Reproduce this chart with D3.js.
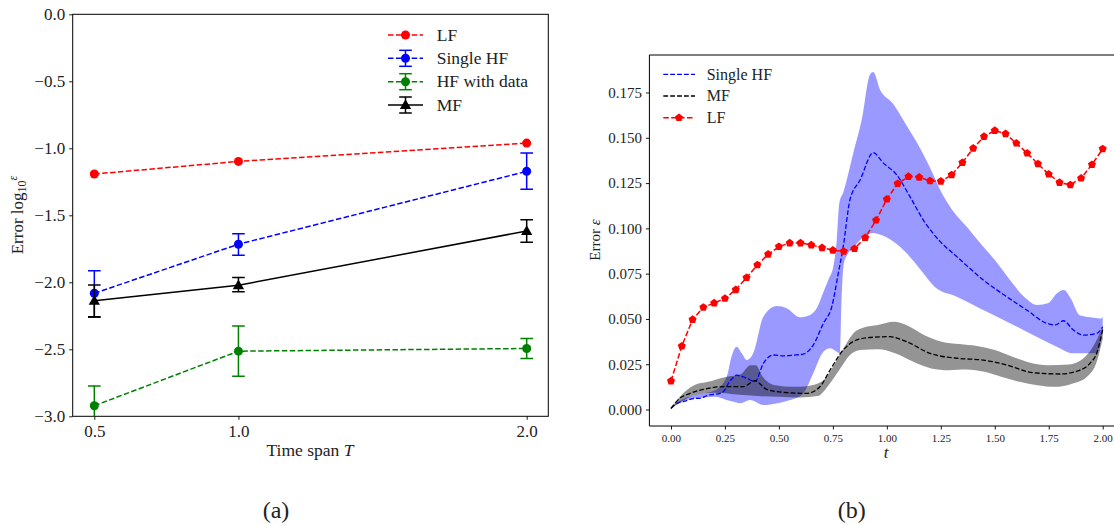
<!DOCTYPE html>
<html><head><meta charset="utf-8">
<script src="https://cdn.jsdelivr.net/npm/d3@7"></script>
<style>
html,body{margin:0;padding:0;background:#fff;}
svg{display:block;font-family:"Liberation Serif","Times New Roman",serif;}
svg text{font-family:"Liberation Serif","Times New Roman",serif !important;}
</style></head>
<body><svg id="c" width="1114" height="525"></svg>
<script>
// ---------- Panel (a) data ----------
const spans = [0.5, 1.0, 2.0];
const spanTicks = [0.5, 1.0, 2.0];
const logTicks = [0.0, -0.5, -1.0, -1.5, -2.0, -2.5, -3.0];
const lfLog = [-1.192, -1.098, -0.961];
const singleHFLog = [-2.082, -1.716, -1.172];
const singleHFLo = [-2.261, -1.798, -1.306];
const singleHFHi = [-1.913, -1.637, -1.036];
const hfDataLog = [-2.921, -2.514, -2.494];
const hfDataLo = [-3.068, -2.702, -2.568];
const hfDataHi = [-2.774, -2.327, -2.419];
const mfLog = [-2.137, -2.022, -1.617];
const mfLogLo = [-2.257, -2.071, -1.701];
const mfLogHi = [-2.020, -1.965, -1.533];
const legendA = ["LF", "Single HF", "HF with data", "MF"];

// ---------- Panel (b) data ----------
const tTicks = [0.00, 0.25, 0.50, 0.75, 1.00, 1.25, 1.50, 1.75, 2.00];
const errTicks = [0.000, 0.025, 0.050, 0.075, 0.100, 0.125, 0.150, 0.175];
const lfT = [0,0.05,0.1,0.15,0.2,0.25,0.3,0.35,0.4,0.45,0.5,0.55,0.6,0.65,0.7,0.75,0.8,0.85,0.9,0.95,1.0,1.05,1.1,1.15,1.2,1.25,1.3,1.35,1.4,1.45,1.5,1.55,1.6,1.65,1.7,1.75,1.8,1.85,1.9,1.95,2.0];
const lfErr = [0.0157,0.035,0.0497,0.0564,0.0588,0.0613,0.0661,0.0728,0.0798,0.0857,0.0899,0.0919,0.0919,0.0908,0.0893,0.0879,0.0873,0.0888,0.0949,0.1045,0.1161,0.1247,0.1286,0.1282,0.1262,0.126,0.1295,0.1363,0.1442,0.1507,0.154,0.1522,0.147,0.1415,0.1356,0.1299,0.1253,0.124,0.1277,0.1352,0.1439];

const hfMeanT = [0,0.033,0.057,0.107,0.134,0.172,0.227,0.254,0.266,0.287,0.304,0.32,0.351,0.389,0.428,0.474,0.52,0.567,0.613,0.659,0.706,0.745,0.775,0.798,0.829,0.876,0.937,0.984,1.046,1.107,1.169,1.247,1.324,1.447,1.555,1.648,1.741,1.78,1.818,1.864,1.91,1.972,2.0];
const hfMean = [0.0006,0.0037,0.0043,0.0061,0.0062,0.0079,0.0089,0.0116,0.0145,0.0175,0.019,0.0185,0.0172,0.0154,0.0255,0.0301,0.0296,0.0300,0.0306,0.0356,0.0476,0.0568,0.0752,0.09,0.1157,0.1267,0.1418,0.136,0.1295,0.1175,0.1046,0.0927,0.0844,0.0715,0.0623,0.0549,0.0476,0.0467,0.049,0.0439,0.0411,0.042,0.0457];
const hfUpT = [0,0.033,0.107,0.205,0.258,0.28,0.304,0.328,0.351,0.381,0.428,0.49,0.536,0.598,0.644,0.675,0.713,0.729,0.752,0.768,0.78,0.798,0.845,0.884,0.922,0.937,0.968,1.027,1.085,1.15,1.21,1.25,1.303,1.369,1.434,1.5,1.566,1.631,1.697,1.746,1.787,1.82,1.852,1.893,1.943,1.995,2.0];
const hfUp = [0.0006,0.0042,0.0079,0.0107,0.0181,0.029,0.0347,0.031,0.0273,0.031,0.0512,0.0571,0.0559,0.0509,0.0522,0.0559,0.0669,0.0717,0.0789,0.0936,0.114,0.1198,0.1418,0.1602,0.185,0.1863,0.1767,0.169,0.158,0.145,0.131,0.1205,0.1102,0.101,0.0917,0.0825,0.0722,0.0628,0.0577,0.0586,0.0641,0.066,0.0613,0.0521,0.0510,0.0503,0.0512];
const hfLoT = [0,0.033,0.107,0.205,0.258,0.303,0.32,0.366,0.428,0.505,0.551,0.613,0.659,0.706,0.737,0.768,0.782,0.79,0.80,0.82,0.85,0.88,0.937,0.975,1.03,1.092,1.169,1.221,1.324,1.478,1.632,1.787,1.864,1.97,2.0];
const hfLo = [0.0006,0.0033,0.0061,0.007,0.0052,0.0039,0.0034,0.0052,0.0025,0.0038,0.0052,0.0089,0.02,0.0319,0.0338,0.0319,0.031,0.06,0.08,0.086,0.09,0.094,0.0975,0.0963,0.0927,0.0862,0.0752,0.0678,0.0623,0.0531,0.0439,0.0347,0.031,0.031,0.044];

const mfMeanT = [0,0.04,0.088,0.15,0.242,0.335,0.389,0.443,0.52,0.629,0.69,0.737,0.798,0.861,0.937,1.015,1.092,1.2,1.324,1.447,1.555,1.679,1.803,1.895,1.941,1.975,2.0];
const mfMean = [0.0006,0.0061,0.0089,0.0111,0.0126,0.0126,0.0159,0.0111,0.0095,0.0089,0.0126,0.0218,0.0329,0.0384,0.0399,0.0402,0.0374,0.031,0.0283,0.0273,0.0246,0.0203,0.0196,0.0218,0.0255,0.032,0.0442];
const mfUpT = [0,0.041,0.107,0.172,0.254,0.32,0.369,0.393,0.426,0.484,0.566,0.631,0.697,0.746,0.795,0.844,0.893,0.959,1.033,1.09,1.172,1.254,1.336,1.418,1.5,1.582,1.664,1.746,1.844,1.91,1.959,2.0];
const mfUp = [0.0006,0.007,0.0134,0.0153,0.018,0.0193,0.0245,0.0245,0.018,0.0134,0.0125,0.0129,0.0153,0.0227,0.0328,0.042,0.0453,0.0466,0.0484,0.0466,0.0411,0.0374,0.0361,0.035,0.0328,0.0291,0.0258,0.0245,0.0249,0.0282,0.0355,0.0457];
const mfLoT = [0,0.041,0.107,0.205,0.303,0.402,0.5,0.598,0.68,0.73,0.779,0.828,0.877,0.959,1.041,1.123,1.205,1.287,1.369,1.451,1.533,1.615,1.697,1.779,1.861,1.926,1.975,2.0];
const mfLo = [0.0006,0.0037,0.0079,0.0092,0.0083,0.0074,0.007,0.0066,0.0074,0.0134,0.0217,0.030,0.0328,0.0332,0.0309,0.0263,0.0227,0.0217,0.0221,0.0208,0.018,0.0153,0.0134,0.0125,0.0144,0.018,0.0273,0.0392];
const legendB = ["Single HF", "MF", "LF"];

const svg = d3.select("#c");
const defs = svg.append("defs");

// ================= Panel (a) =================
const xA = d3.scaleLinear().domain([0.425, 2.075]).range([72.7, 548.3]);
const yA = d3.scaleLinear().domain([-3, 0]).range([416.3, 14.3]);
defs.append("clipPath").attr("id","clipA").append("rect")
  .attr("x",72.7).attr("y",14.3).attr("width",548.3-72.7).attr("height",416.3-14.3);

const gA = svg.append("g");
const fmtMinus = v => (v < 0 ? "\u2212" : "") + Math.abs(v).toFixed(1);
const axAy = gA.append("g").attr("transform","translate(72.7,0)")
  .call(d3.axisLeft(yA).tickValues(logTicks).tickSize(3.5).tickPadding(4).tickFormat(fmtMinus));
const axAx = gA.append("g").attr("transform","translate(0,416.3)")
  .call(d3.axisBottom(xA).tickValues(spanTicks).tickSize(3.5).tickPadding(5).tickFormat(d3.format(".1f")));
[axAy, axAx].forEach(a => {
  a.attr("font-family", null);
  a.select(".domain").remove();
  a.selectAll("text").attr("font-size", 17).attr("fill","#222");
  a.selectAll("line").attr("stroke","#000").attr("stroke-width",0.9);
});
gA.append("rect").attr("x",72.7).attr("y",14.3).attr("width",548.3-72.7).attr("height",416.3-14.3)
  .attr("fill","none").attr("stroke","#000").attr("stroke-width",1);

const pA = gA.append("g").attr("clip-path","url(#clipA)");
const lineA = vals => d3.line().x((d,i)=>xA(spans[i])).y(d=>yA(d))(vals);
function errbars(g, lo, hi, color, lw) {
  spans.forEach((s,i)=>{
    g.append("line").attr("x1",xA(s)).attr("x2",xA(s)).attr("y1",yA(lo[i])).attr("y2",yA(hi[i]))
      .attr("stroke",color).attr("stroke-width",lw);
    [lo[i],hi[i]].forEach(v=> g.append("line").attr("x1",xA(s)-6.3).attr("x2",xA(s)+6.3)
      .attr("y1",yA(v)).attr("y2",yA(v)).attr("stroke",color).attr("stroke-width",lw));
  });
}
const triangle = d3.symbol().type(d3.symbolTriangle).size(55);
const seriesA = [
  {vals: lfLog, color:"#ff0000", dash:"5.5,2.4", marker:"o"},
  {vals: singleHFLog, lo: singleHFLo, hi: singleHFHi, color:"#0000ff", dash:"5.5,2.4", marker:"o"},
  {vals: hfDataLog, lo: hfDataLo, hi: hfDataHi, color:"#008000", dash:"5.5,2.4", marker:"o"},
  {vals: mfLog, lo: mfLogLo, hi: mfLogHi, color:"#000000", dash:null, marker:"^"}
];
seriesA.forEach(s=>{
  if (s.lo) errbars(pA, s.lo, s.hi, s.color, 1.5);
  const p = pA.append("path").attr("d", lineA(s.vals)).attr("fill","none")
    .attr("stroke", s.color).attr("stroke-width",1.5);
  if (s.dash) p.attr("stroke-dasharray", s.dash);
  s.vals.forEach((v,i)=>{
    if (s.marker === "o") pA.append("circle").attr("cx",xA(spans[i])).attr("cy",yA(v)).attr("r",4.5).attr("fill",s.color);
    else pA.append("path").attr("d",triangle()).attr("transform",`translate(${xA(spans[i])},${yA(v)+0.8})`).attr("fill",s.color);
  });
});
// legend (a)
const legAy = [35, 58.3, 81.7, 105];
seriesA.forEach((s,i)=>{
  const y = legAy[i], g = gA.append("g");
  const l = g.append("line").attr("x1",388).attr("x2",423).attr("y1",y).attr("y2",y)
    .attr("stroke",s.color).attr("stroke-width",1.5);
  if (s.dash) l.attr("stroke-dasharray","5.5,2.4");
  if (s.lo) {
    g.append("line").attr("x1",405.5).attr("x2",405.5).attr("y1",y-8).attr("y2",y+8).attr("stroke",s.color).attr("stroke-width",1.5);
    [y-8,y+8].forEach(yy=>g.append("line").attr("x1",399.2).attr("x2",411.8).attr("y1",yy).attr("y2",yy).attr("stroke",s.color).attr("stroke-width",1.5));
  }
  if (s.marker==="o") g.append("circle").attr("cx",405.5).attr("cy",y).attr("r",4.5).attr("fill",s.color);
  else g.append("path").attr("d",triangle()).attr("transform",`translate(405.5,${y+0.8})`).attr("fill",s.color);
  g.append("text").attr("x",436.7).attr("y",y+5.5).attr("font-size",17.5).attr("fill","#222").text(legendA[i]);
});
// axis labels (a)
gA.append("text").attr("x",310).attr("y",456).attr("text-anchor","middle").attr("font-size",17.5).attr("fill","#222")
  .html('Time span <tspan font-style="italic">T</tspan>');
const yl = gA.append("text").attr("transform","translate(23,215) rotate(-90)").attr("text-anchor","middle")
  .attr("font-size",17).attr("fill","#222");
yl.append("tspan").text("Error log");
yl.append("tspan").attr("font-size",12).attr("dy",3).text("10");
yl.append("tspan").attr("font-size",12).attr("font-style","italic").attr("dy",-9).text("\u03b5");
svg.append("text").attr("x",276).attr("y",518).attr("text-anchor","middle").attr("font-size",24).attr("fill","#222").text("(a)");

// ================= Panel (b) =================
const xB = d3.scaleLinear().domain([-0.1, 2.1]).range([649.4, 1124.3]);
const yB = d3.scaleLinear().domain([-0.0091, 0.1957]).range([426, 55]);
defs.append("clipPath").attr("id","clipB").append("rect")
  .attr("x",649.4).attr("y",55).attr("width",1124.3-649.4).attr("height",426-55);
const gB = svg.append("g");
const pB = gB.append("g").attr("clip-path","url(#clipB)");

const edge = d3.line().curve(d3.curveMonotoneX);
function band(tu, vu, tl, vl) {
  const up = tu.map((t,i)=>[xB(t), yB(vu[i])]);
  const lo = tl.map((t,i)=>[xB(t), yB(vl[i])]).reverse();
  return edge(up) + "L" + edge(lo).slice(1) + "Z";
}
const smooth = (ts, vs) => d3.line().curve(d3.curveMonotoneX).x((d,i)=>xB(ts[i])).y(d=>yB(d))(vs);
pB.append("path").attr("d", band(hfUpT, hfUp, hfLoT, hfLo)).attr("fill","#0000ff").attr("fill-opacity",0.4);
pB.append("path").attr("d", band(mfUpT, mfUp, mfLoT, mfLo)).attr("fill","#000000").attr("fill-opacity",0.42);
pB.append("path").attr("d", smooth(hfMeanT, hfMean)).attr("fill","none").attr("stroke","#0000ff")
  .attr("stroke-width",1.3).attr("stroke-dasharray","4.8,2.1");
pB.append("path").attr("d", smooth(mfMeanT, mfMean)).attr("fill","none").attr("stroke","#000")
  .attr("stroke-width",1.3).attr("stroke-dasharray","4.8,2.1");
pB.append("path").attr("d", d3.line().x((d,i)=>xB(lfT[i])).y(d=>yB(d))(lfErr)).attr("fill","none")
  .attr("stroke","#ff0000").attr("stroke-width",1.5).attr("stroke-dasharray","5.5,2.4");
const pentagon = {draw(ctx, size){ const r = Math.sqrt(size/2.378);
  for (let k=0;k<5;k++){ const a=-Math.PI/2+k*2*Math.PI/5; const x=r*Math.cos(a), y=r*Math.sin(a); k?ctx.lineTo(x,y):ctx.moveTo(x,y);} ctx.closePath(); }};
const pent = d3.symbol().type(pentagon).size(42);
lfErr.forEach((v,i)=> pB.append("path").attr("d",pent()).attr("transform",`translate(${xB(lfT[i])},${yB(v)})`).attr("fill","#ff0000"));

const axBy = gB.append("g").attr("transform","translate(649.4,0)")
  .call(d3.axisLeft(yB).tickValues(errTicks).tickSize(3.5).tickPadding(4).tickFormat(d3.format(".3f")));
const axBx = gB.append("g").attr("transform","translate(0,426)")
  .call(d3.axisBottom(xB).tickValues(tTicks).tickSize(3.5).tickPadding(5).tickFormat(d3.format(".2f")));
[axBy, axBx].forEach(a => {
  a.attr("font-family", null);
  a.select(".domain").remove();
  a.selectAll("line").attr("stroke","#000").attr("stroke-width",0.9);
  a.selectAll("text").attr("fill","#222");
});
axBy.selectAll("text").attr("font-size",15);
axBx.selectAll("text").attr("font-size",11);
gB.append("path").attr("d",`M1124.3,55H649.4V426H1124.3`).attr("fill","none").attr("stroke","#000").attr("stroke-width",1);

// legend (b)
const legB = [{c:"#0000ff",m:false},{c:"#000",m:false},{c:"#ff0000",m:true}];
const legBy = [74.3, 96, 117.7];
legB.forEach((s,i)=>{
  const y = legBy[i];
  gB.append("line").attr("x1",663.3).attr("x2",695).attr("y1",y).attr("y2",y).attr("stroke",s.c)
    .attr("stroke-width", s.m?1.5:1.3).attr("stroke-dasharray", s.m?"5.5,2.4":"4.8,2.1");
  if (s.m) gB.append("path").attr("d",pent()).attr("transform",`translate(679,${y})`).attr("fill",s.c);
  gB.append("text").attr("x",706.7).attr("y",y+5.3).attr("font-size",16).attr("fill","#222").text(legendB[i]);
});
gB.append("text").attr("x",886).attr("y",458).attr("text-anchor","middle").attr("font-size",17)
  .attr("font-style","italic").attr("fill","#222").text("t");
const ylb = gB.append("text").attr("transform","translate(600,240) rotate(-90)").attr("text-anchor","middle")
  .attr("font-size",15).attr("fill","#222");
ylb.append("tspan").text("Error ");
ylb.append("tspan").attr("font-style","italic").text("\u03b5");
svg.append("text").attr("x",851.7).attr("y",518).attr("text-anchor","middle").attr("font-size",24).attr("fill","#222").text("(b)");
</script></body></html>
